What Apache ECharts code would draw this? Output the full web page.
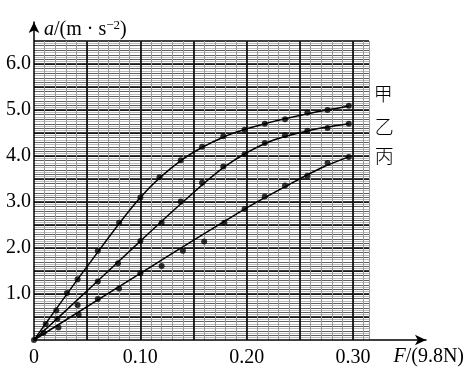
<!DOCTYPE html>
<html><head><meta charset="utf-8">
<script src="https://cdn.jsdelivr.net/npm/echarts@6/dist/echarts.min.js"></script>
<style>html,body{margin:0;padding:0;background:#fff}#c{width:469px;height:387px}</style>
</head><body><div id="c"></div>
<script>
// measured points: F in units of 9.8 N, a in m/s^2
const jiaF = [0, 0.011, 0.021, 0.031, 0.041, 0.060, 0.080, 0.100, 0.118, 0.138, 0.158, 0.178, 0.198, 0.217, 0.236, 0.257, 0.276, 0.296];
const jiaA = [0, 0.35, 0.64, 1.02, 1.32, 1.94, 2.55, 3.10, 3.54, 3.91, 4.20, 4.43, 4.57, 4.70, 4.80, 4.94, 5.00, 5.09];
const yiF = [0.009, 0.022, 0.041, 0.060, 0.079, 0.100, 0.120, 0.138, 0.158, 0.178, 0.198, 0.217, 0.236, 0.257, 0.276, 0.296];
const yiA = [0.16, 0.46, 0.76, 1.27, 1.67, 2.15, 2.55, 3.01, 3.42, 3.77, 4.04, 4.28, 4.45, 4.55, 4.61, 4.70];
const bingF = [0.023, 0.042, 0.060, 0.080, 0.100, 0.120, 0.140, 0.160, 0.179, 0.198, 0.217, 0.236, 0.257, 0.276, 0.296];
const bingA = [0.27, 0.55, 0.89, 1.12, 1.45, 1.61, 1.94, 2.14, 2.55, 2.85, 3.12, 3.36, 3.57, 3.85, 3.98];
// hand-drawn fitted curves
const jiaFitF = [0, 0.05, 0.10, 0.14, 0.18, 0.22, 0.26, 0.296];
const jiaFitA = [0, 1.6, 3.1, 3.93, 4.43, 4.72, 4.93, 5.08];
const yiFitF = [0, 0.05, 0.10, 0.14, 0.18, 0.22, 0.26, 0.296];
const yiFitA = [0, 1.07, 2.15, 3.0, 3.78, 4.3, 4.56, 4.70];
const bingFitF = [0, 0.10, 0.20, 0.24, 0.27, 0.296];
const bingFitA = [0, 1.45, 2.87, 3.38, 3.74, 3.98];
const curveNames = ['甲', '乙', '丙'];
const xTickLabels = ['0', '0.10', '0.20', '0.30'];
const yTickLabels = ['1.0', '2.0', '3.0', '4.0', '5.0', '6.0'];

const zip = (a, b) => a.map((v, i) => [v, b[i]]);
const serif = 'Liberation Serif';
const X_MAX = 0.315, Y_MAX = 6.5;

function gridX(interval, color, width, showMax) {
  return {gridIndex: 0, type: 'value', min: 0, max: X_MAX, interval: interval,
    axisLine: {show: false}, axisTick: {show: false}, axisLabel: {show: false},
    splitLine: {show: true, showMinLine: false, showMaxLine: showMax, lineStyle: {color: color, width: width}}};
}
function gridY(interval, color, width, showMax) {
  return {gridIndex: 0, type: 'value', min: 0, max: Y_MAX, interval: interval,
    axisLine: {show: false}, axisTick: {show: false}, axisLabel: {show: false},
    splitLine: {show: true, showMinLine: false, showMaxLine: showMax, lineStyle: {color: color, width: width}}};
}

const option = {
  animation: false,
  backgroundColor: '#fff',
  grid: [
    {left: 34, right: 100, top: 41, bottom: 47},
    {left: 34, right: 43, top: 22, bottom: 47}
  ],
  xAxis: [
    {gridIndex: 0, type: 'value', min: 0, max: X_MAX, interval: 0.1,
      axisLine: {show: false}, axisTick: {show: false}, splitLine: {show: false},
      axisLabel: {show: true, showMaxLabel: false, margin: 8, color: '#000', fontFamily: serif, fontSize: 20,
        formatter: v => { const i = Math.round(v * 10); return (Math.abs(v * 10 - i) < 1e-6 && i < xTickLabels.length) ? xTickLabels[i] : ''; }}},
    gridX(0.01, '#9a9a9a', 1, true),
    gridX(0.05, '#000', 1.6, false),
    {gridIndex: 1, type: 'value', min: 0, max: 1,
      axisLine: {show: true, symbol: ['none', 'arrow'], symbolSize: [8, 11], lineStyle: {color: '#000', width: 1.5}},
      axisTick: {show: false}, axisLabel: {show: false}, splitLine: {show: false},
      name: '{i|F}/(9.8N)', nameLocation: 'end', nameGap: 38,
      nameTextStyle: {align: 'right', verticalAlign: 'top', padding: [7, 0, 0, 0], fontFamily: serif, fontSize: 20, color: '#000',
        rich: {i: {fontStyle: 'italic', fontFamily: serif, fontSize: 20, color: '#000'}}}}
  ],
  yAxis: [
    {gridIndex: 0, type: 'value', min: 0, max: Y_MAX, interval: 1,
      axisLine: {show: false}, axisTick: {show: false}, splitLine: {show: false},
      axisLabel: {show: true, showMaxLabel: false, margin: 3, color: '#000', fontFamily: serif, fontSize: 20,
        formatter: v => { const i = Math.round(v); return (i >= 1 && i <= yTickLabels.length && Math.abs(v - i) < 1e-6) ? yTickLabels[i - 1] : ''; }}},
    gridY(0.05, '#a8a8a8', 0.8, false),
    gridY(0.1, '#444', 0.8, false),
    gridY(0.5, '#000', 1.6, true),
    {gridIndex: 1, type: 'value', min: 0, max: 1,
      axisLine: {show: true, symbol: ['none', 'arrow'], symbolSize: [8, 11], lineStyle: {color: '#000', width: 1.5}},
      axisTick: {show: false}, axisLabel: {show: false}, splitLine: {show: false},
      name: '{i|a}/(m · s{sup|−2})', nameLocation: 'end', nameGap: -8,
      nameTextStyle: {align: 'left', verticalAlign: 'middle', padding: [0, 0, 0, 10], fontFamily: serif, fontSize: 20, color: '#000',
        rich: {i: {fontStyle: 'italic', fontFamily: serif, fontSize: 20, color: '#000'},
               sup: {fontFamily: serif, fontSize: 13, color: '#000', verticalAlign: 'top', padding: [0, 0, 8, 0]}}}}
  ],
  series: []
};

const pts = [[jiaF, jiaA], [yiF, yiA], [bingF, bingA]];
const fits = [[jiaFitF, jiaFitA], [yiFitF, yiFitA], [bingFitF, bingFitA]];
const labelOffsets = [[20, -13], [21, 3], [21, -1]];
fits.forEach((f, k) => {
  option.series.push({
    name: curveNames[k], type: 'line', xAxisIndex: 0, yAxisIndex: 0,
    data: zip(f[0], f[1]), smooth: 0.3, showSymbol: false, symbol: 'none',
    lineStyle: {color: '#000', width: 1.5}, z: 3,
    endLabel: {show: true, formatter: curveNames[k], offset: labelOffsets[k], distance: 5,
      fontFamily: 'Noto Sans CJK SC', fontWeight: 300, fontSize: 19, color: '#000'}
  });
});
pts.forEach((p, k) => {
  option.series.push({
    name: curveNames[k] + ' data', type: 'scatter', xAxisIndex: 0, yAxisIndex: 0,
    data: zip(p[0], p[1]), symbol: 'circle', symbolSize: 6,
    itemStyle: {color: '#000'}, z: 4
  });
});

const chart = echarts.init(document.getElementById('c'), null, {renderer: 'canvas'});
chart.setOption(option);
</script></body></html>
